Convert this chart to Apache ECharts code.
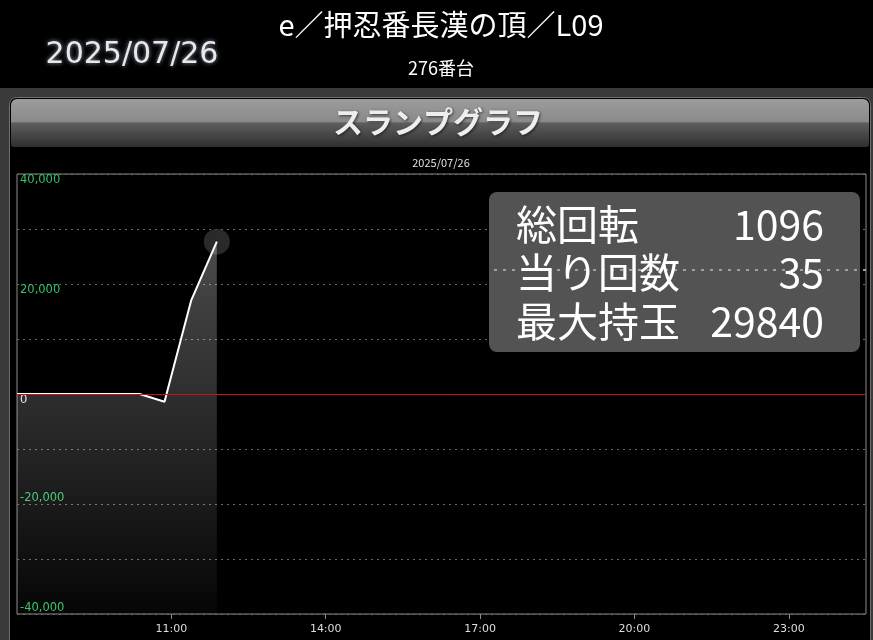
<!DOCTYPE html>
<html>
<head>
<meta charset="utf-8">
<script src="https://cdn.jsdelivr.net/npm/echarts@6/dist/echarts.min.js"></script>
<style>
html,body{margin:0;padding:0;background:#000;}
#chart{width:873px;height:640px;}
</style>
</head>
<body>
<div id="chart"></div>
<script>
// ---- data ----
const times = ['08:00', '10:23', '10:52', '11:23', '11:53'];
const values = [0, 0, -1400, 16960, 27700];
const xTickLabels = ['11:00', '14:00', '17:00', '20:00', '23:00'];
const yPosLabels = [0, 20000, 40000];
const yNegLabels = [-40000, -20000];
const statLabels = ['総回転', '当り回数', '最大持玉'];
const statValues = ['1096', '35', '29840'];
const machineTitle = 'e／押忍番長漢の頂／L09';
const machineNo = '276番台';
const dateText = '2025/07/26';
const graphTitle = 'スランプグラフ';

function toHours(t) { const p = t.split(':'); return +p[0] + (+p[1]) / 60; }
const seriesData = times.map((t, i) => [toHours(t), values[i]]);
const lastPoint = seriesData[seriesData.length - 1];

const chart = echarts.init(document.getElementById('chart'), null, { renderer: 'canvas' });
const jp = '"Noto Sans CJK JP", "Noto Sans", sans-serif';
const fmt = v => v.toLocaleString('en-US');

const statTexts = [];
statLabels.forEach((l, i) => {
  const y = 224 + i * 48.5;
  statTexts.push({ type: 'text', z: 101, style: { text: l, x: 516, y: y, fill: '#ffffff', font: '41px ' + jp, textAlign: 'left', textVerticalAlign: 'middle' } });
  statTexts.push({ type: 'text', z: 101, style: { text: statValues[i], x: 824, y: y, fill: '#ffffff', font: '41px ' + jp, textAlign: 'right', textVerticalAlign: 'middle' } });
});

chart.setOption({
  backgroundColor: '#000',
  animation: false,
  grid: { left: 17, right: 7, top: 174, bottom: 26, show: true, borderColor: '#8c8c8c', borderWidth: 1, backgroundColor: 'transparent' },
  xAxis: {
    type: 'value', min: 8, max: 24.5, position: 'bottom',
    axisLine: { show: false, onZero: false },
    splitLine: { show: false },
    axisTick: { show: true, customValues: xTickLabels.map(toHours), length: 5, lineStyle: { color: '#8c8c8c' } },
    axisLabel: {
      customValues: xTickLabels.map(toHours), color: '#dddddd', fontSize: 11, margin: 10,
      fontFamily: 'DejaVu Sans',
      formatter: v => { const h = Math.floor(v); const m = Math.round((v - h) * 60); return h + ':' + String(m).padStart(2, '0'); }
    }
  },
  yAxis: [
    {
      type: 'value', min: -40000, max: 40000, interval: 10000, position: 'left',
      axisLine: { show: false }, axisTick: { show: false },
      splitLine: { show: true, lineStyle: { color: '#6a6a6a', type: [2, 4], width: 1 } },
      axisLabel: {
        inside: true, customValues: yPosLabels, verticalAlign: 'top', margin: 3, fontSize: 11.5,
        fontFamily: 'DejaVu Sans',
        formatter: v => fmt(v),
        color: v => (+v === 0 ? '#e0e0e0' : '#33c466')
      }
    },
    {
      type: 'value', min: -40000, max: 40000, interval: 10000, position: 'left',
      axisLine: { show: false }, axisTick: { show: false }, splitLine: { show: false },
      axisLabel: {
        inside: true, customValues: yNegLabels, verticalAlign: 'bottom', margin: 3, fontSize: 11.5,
        fontFamily: 'DejaVu Sans',
        formatter: v => fmt(v), color: '#33c466'
      }
    }
  ],
  series: [
    {
      type: 'scatter', data: [lastPoint], symbol: 'circle', symbolSize: 26, z: 1,
      itemStyle: { color: 'rgba(62,62,62,0.85)' }, silent: true,
      markLine: {
        silent: true, symbol: 'none', label: { show: false },
        lineStyle: { color: '#cc1111', width: 1, type: 'solid' },
        data: [{ yAxis: 0 }]
      }
    },
    {
      type: 'line', data: seriesData, showSymbol: false, z: 3,
      lineStyle: { color: '#ffffff', width: 2 },
      areaStyle: {
        origin: 'start',
        color: new echarts.graphic.LinearGradient(0, 0, 0, 1, [
          { offset: 0, color: 'rgba(255,255,255,0.42)' },
          { offset: 1, color: 'rgba(255,255,255,0.03)' }
        ])
      }
    }
  ],
  graphic: [
    { type: 'rect', z: -10, shape: { x: 0, y: 88, width: 873, height: 552 }, style: { fill: '#3a3a3a' } },
    { type: 'rect', z: -9, shape: { x: 9.5, y: 97.5, width: 861, height: 560, r: [7, 7, 0, 0] }, style: { fill: '#000', stroke: '#707070', lineWidth: 1 } },
    { type: 'rect', z: -8, shape: { x: 11, y: 99, width: 858, height: 48, r: [6, 6, 3, 3] },
      style: { fill: new echarts.graphic.LinearGradient(0, 0, 0, 1, [
        { offset: 0, color: '#9c9c9c' }, { offset: 0.47, color: '#8a8a8a' },
        { offset: 0.5, color: '#5e5e5e' }, { offset: 1, color: '#2e2e2e' }
      ]) } },
    { type: 'text', z: 5, style: { text: graphTitle, x: 438, y: 122, font: 'bold 30px ' + jp, fill: '#eeeeee', textAlign: 'center', textVerticalAlign: 'middle', textShadowColor: 'rgba(0,0,0,0.6)', textShadowBlur: 3, textShadowOffsetX: 1, textShadowOffsetY: 1 } },
    { type: 'text', z: 5, style: { text: dateText, x: 441, y: 163, font: '11px ' + jp, fill: '#e0e0e0', textAlign: 'center', textVerticalAlign: 'middle' } },
    { type: 'text', z: 5, style: { text: machineTitle, x: 441, y: 25, font: '29px ' + jp, fill: '#ffffff', textAlign: 'center', textVerticalAlign: 'middle' } },
    { type: 'text', z: 5, style: { text: machineNo, x: 441, y: 68, font: '18px ' + jp, fill: '#ffffff', textAlign: 'center', textVerticalAlign: 'middle' } },
    { type: 'text', z: 5, style: { text: dateText, x: 132, y: 55, font: '30px "DejaVu Sans"', fill: '#e8e8e8', textAlign: 'center', textVerticalAlign: 'middle', textShadowColor: 'rgba(200,220,255,0.7)', textShadowBlur: 4 } },
    { type: 'rect', z: 100, shape: { x: 489, y: 192, width: 371, height: 160, r: 8 }, style: { fill: '#535353' } },
    { type: 'line', z: 100, shape: { x1: 494, y1: 270, x2: 866, y2: 270 }, style: { stroke: '#a0a0a0', lineWidth: 2, lineDash: [3, 6] } }
  ].concat(statTexts)
});
</script>
</body>
</html>
